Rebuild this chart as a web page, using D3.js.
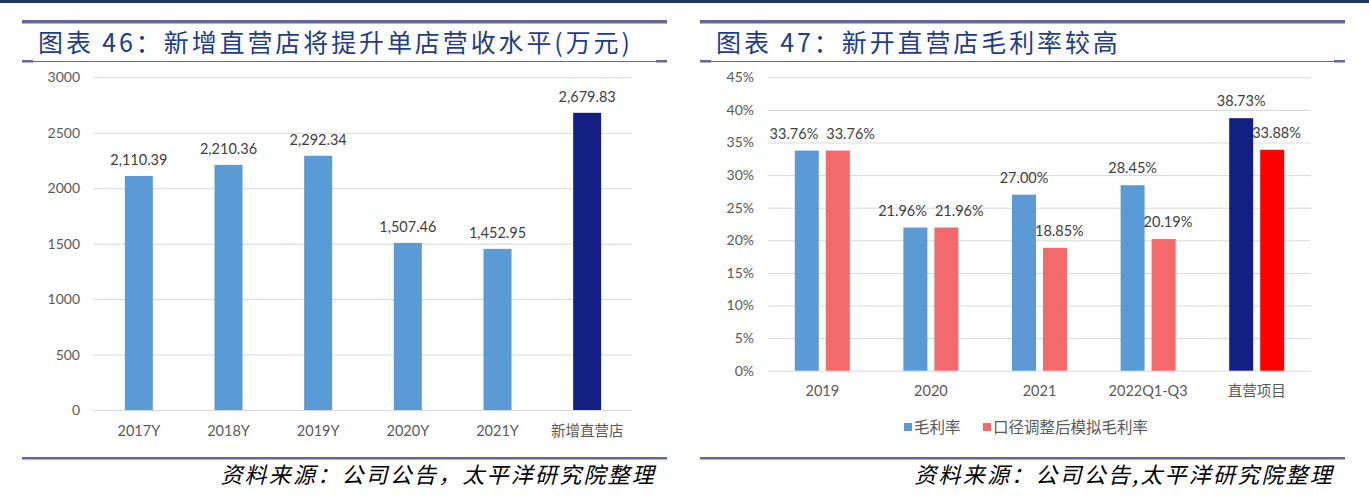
<!DOCTYPE html>
<html><head><meta charset="utf-8">
<script src="https://cdn.jsdelivr.net/npm/d3@7"></script>
<style>
body{margin:0;background:#fff;}
svg{display:block;}
</style></head>
<body>
<svg id="c" width="1369" height="504"></svg>
<script>
// ---- data ----
const leftTitle = "图表 46：新增直营店将提升单店营收水平(万元)";
const rightTitle = "图表 47：新开直营店毛利率较高";
const leftSource = "资料来源：公司公告，太平洋研究院整理";
const rightSource = "资料来源：公司公告,太平洋研究院整理";

const revCategories = ["2017Y","2018Y","2019Y","2020Y","2021Y","新增直营店"];
const revValues = [2110.39, 2210.36, 2292.34, 1507.46, 1452.95, 2679.83];
const revTicks = [0,500,1000,1500,2000,2500,3000];

const gmCategories = ["2019","2020","2021","2022Q1-Q3","直营项目"];
const gmSeriesNames = ["毛利率","口径调整后模拟毛利率"];
const gmGross = [33.76, 21.96, 27.00, 28.45, 38.73];
const gmAdjusted = [33.76, 21.96, 18.85, 20.19, 33.88];
const gmTicks = [0,5,10,15,20,25,30,35,40,45];

const C_BLUE="#5b9bd5", C_PINK="#f4696b", C_NAVY="#131f83", C_RED="#ff0000";
const LINE="#67679b", TITLE="#1f3c88", TXT="#595959", LBL="#404040", GRID="#d9d9d9";
const FONT="'Noto Sans CJK SC','Noto Sans',sans-serif";
const NUMFONT="Lato,'Noto Sans CJK SC',sans-serif";

const svg = d3.select("#c");
svg.append("rect").attr("x",0).attr("y",0).attr("width",1369).attr("height",3).attr("fill","#1f3864");

function frame(x0,x1,title,source){
  svg.append("rect").attr("x",x0).attr("y",20).attr("width",x1-x0).attr("height",3.5).attr("fill",LINE);
  svg.append("text").attr("x",x0+16).attr("y",52).attr("fill",TITLE)
    .attr("font-family",FONT).attr("font-size",25).attr("letter-spacing",2.9).text(title);
  svg.append("rect").attr("x",x0).attr("y",61).attr("width",x1-x0).attr("height",1).attr("fill",LINE);
  svg.append("rect").attr("x",x0).attr("y",60).attr("width",11).attr("height",2.5).attr("fill",LINE);
  svg.append("rect").attr("x",x1-11).attr("y",60).attr("width",11).attr("height",2.5).attr("fill",LINE);
  svg.append("rect").attr("x",x0).attr("y",457).attr("width",x1-x0).attr("height",2.5).attr("fill",LINE);
  svg.append("text").attr("x",x1-11).attr("y",483).attr("text-anchor","end").attr("fill","#000")
    .attr("font-family",FONT).attr("font-style","italic").attr("font-size",22).attr("letter-spacing",2.2)
    .text(source);
}
frame(22,667,leftTitle,leftSource);
frame(700,1345,rightTitle,rightSource);

// ---- left chart ----
{
  const x = d3.scaleBand().domain(revCategories).range([94,632]).padding(0);
  const y = d3.scaleLinear().domain([0,3000]).range([410,77.3]);
  const g = svg.append("g");
  const ax = g.append("g").attr("transform","translate(94,0)")
    .call(d3.axisLeft(y).tickValues(revTicks).tickSize(-(632-94)).tickFormat(d3.format("d")));
  ax.select(".domain").remove();
  ax.selectAll(".tick line").attr("stroke",GRID).attr("stroke-width",1);
  ax.selectAll(".tick text").attr("x",-14).attr("fill",TXT).attr("font-family",NUMFONT).attr("font-size",14);
  const bw = 28;
  g.selectAll(".bar").data(revValues).join("rect")
    .attr("x",(d,i)=>x(revCategories[i])+x.bandwidth()/2-bw/2)
    .attr("y",d=>y(d)).attr("width",bw).attr("height",d=>y(0)-y(d))
    .attr("fill",(d,i)=>i===revValues.length-1?C_NAVY:C_BLUE);
  g.selectAll(".vl").data(revValues).join("text")
    .attr("x",(d,i)=>x(revCategories[i])+x.bandwidth()/2).attr("y",d=>y(d)-11)
    .attr("text-anchor","middle").attr("fill",LBL).attr("font-family",NUMFONT).attr("font-size",14.5)
    .text(d=>d3.format(",.2f")(d));
  const xa = g.append("g").attr("transform","translate(0,410)").call(d3.axisBottom(x).tickSize(0));
  xa.select(".domain").remove();
  xa.selectAll(".tick text").attr("dy",0).attr("y",26).attr("fill",TXT).attr("font-family",NUMFONT).attr("font-size",14.5);
}

// ---- right chart ----
{
  const x = d3.scaleBand().domain(gmCategories).range([768,1311]).padding(0);
  const y = d3.scaleLinear().domain([0,45]).range([370.7,77.3]);
  const g = svg.append("g");
  const ax = g.append("g").attr("transform","translate(768,0)")
    .call(d3.axisLeft(y).tickValues(gmTicks).tickSize(-(1311-768)).tickFormat(d=>d+"%"));
  ax.select(".domain").remove();
  ax.selectAll(".tick line").attr("stroke",GRID).attr("stroke-width",1);
  ax.selectAll(".tick text").attr("x",-14).attr("fill",TXT).attr("font-family",NUMFONT).attr("font-size",14);
  const keys=["g","a"];
  const rows = gmCategories.map((c,i)=>({c,i,vals:[gmGross[i],gmAdjusted[i]]}));
  const x1 = d3.scaleBand().domain(keys).range([-27.5,27.5]).paddingInner(0.226);
  const col=(i,k)=> i===gmCategories.length-1 ? (k===0?C_NAVY:C_RED) : (k===0?C_BLUE:C_PINK);
  rows.forEach(r=>{
    const cx = x(r.c)+x.bandwidth()/2;
    const labels=[];
    r.vals.forEach((v,k)=>{
      const bx = cx+x1(keys[k]);
      g.append("rect").attr("x",bx).attr("y",y(v)).attr("width",x1.bandwidth())
        .attr("height",y(0)-y(v)).attr("fill",col(r.i,k));
      const t = g.append("text").attr("x",bx+x1.bandwidth()/2).attr("y",y(v)-12)
        .attr("text-anchor","middle").attr("fill",LBL).attr("font-family",NUMFONT).attr("font-size",14.5)
        .text(d3.format(".2f")(v)+"%");
      labels.push({t,cx:bx+x1.bandwidth()/2,w:t.node().getComputedTextLength(),yb:y(v)-12,bx});
    });
    // simple label collision avoidance
    const [a,b]=labels;
    const sameRow = Math.abs(a.yb-b.yb)<16;
    if(sameRow){
      const overlap = (a.cx+a.w/2+8)-(b.cx-b.w/2);
      if(overlap>0){
        a.t.attr("x",a.cx-overlap/2); b.t.attr("x",b.cx+overlap/2);
      }
    } else if(b.yb>y(r.vals[0])){
      const minLeft = a.bx+x1.bandwidth()-1;
      const left = b.cx-b.w/2;
      if(left<minLeft) b.t.attr("x",b.cx+(minLeft-left));
    }
  });
  const xa = g.append("g").attr("transform","translate(0,370.7)").call(d3.axisBottom(x).tickSize(0));
  xa.select(".domain").remove();
  xa.selectAll(".tick text").attr("dy",0).attr("y",25).attr("fill",TXT).attr("font-family",NUMFONT).attr("font-size",14.5);
  // legend
  const lg = g.append("g");
  const lx=[904,983];
  gmSeriesNames.forEach((n,k)=>{
    lg.append("rect").attr("x",lx[k]).attr("y",423).attr("width",8).attr("height",8).attr("fill",k===0?C_BLUE:C_PINK);
    lg.append("text").attr("x",lx[k]+10).attr("y",432.5).attr("fill",TXT).attr("font-family",FONT).attr("font-size",15.5).text(n);
  });
}
</script>
</body></html>
